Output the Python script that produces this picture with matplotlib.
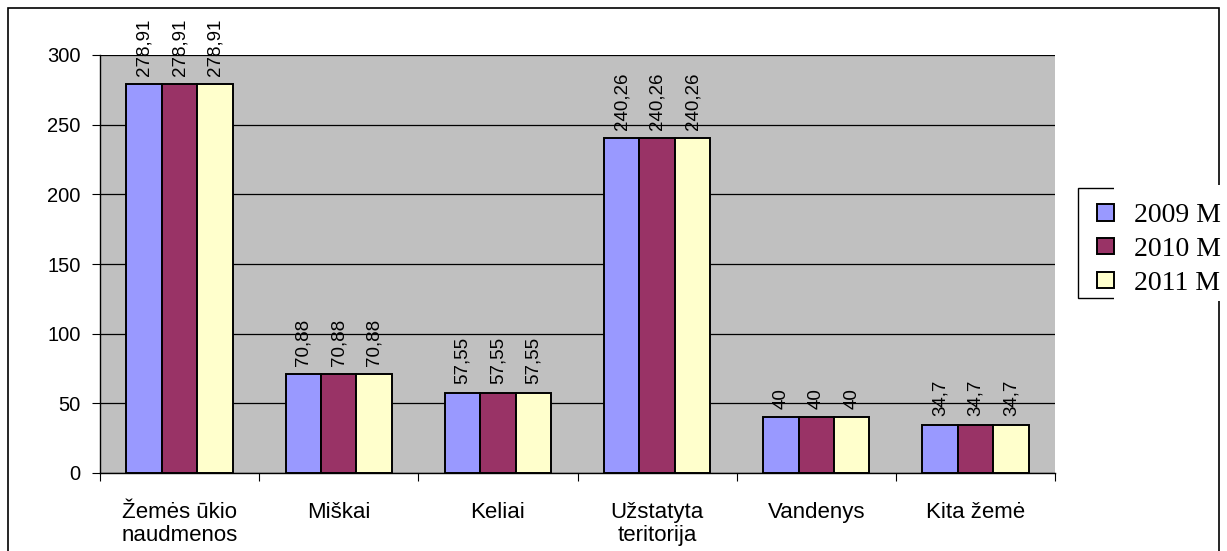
import numpy as np
import matplotlib
matplotlib.use("Agg")
from matplotlib import pyplot as plt
from matplotlib.patches import Rectangle

# data
categories = ["Žemės ūkio\nnaudmenos", "Miškai", "Keliai", "Užstatyta\nteritorija", "Vandenys", "Kita žemė"]
series_names = ["2009 M", "2010 M", "2011 M"]
v2009 = [278.91, 70.88, 57.55, 240.26, 40, 34.7]
v2010 = [278.91, 70.88, 57.55, 240.26, 40, 34.7]
v2011 = [278.91, 70.88, 57.55, 240.26, 40, 34.7]
colors = ["#9999FF", "#993366", "#FFFFCC"]

plt.rcParams['font.family'] = ['Liberation Sans', 'DejaVu Sans']

W, H = 1227, 551
fig = plt.figure(figsize=(W/100, H/100), dpi=100)
fig.patch.set_facecolor("white")
ax = fig.add_axes([100/W, 1-473/H, (1055-100)/W, (473-55)/H])
ax.set_facecolor("#C0C0C0")

# outer chart frame (runs off the bottom)
fig.patches.append(Rectangle((8/W, -0.1), (1219-8)/W, 1.1-8/H, transform=fig.transFigure,
                             fill=False, edgecolor="black", linewidth=1.2, clip_on=False, zorder=0))
# legend frame: left part only, the text box hides the rest
fig.patches.append(Rectangle((1078/W, 1-298/H), 0.2, (298-188)/H, transform=fig.transFigure,
                             facecolor="white", edgecolor="black", linewidth=1.0, clip_on=False, zorder=1))
fig.patches.append(Rectangle((1114/W, 1-301/H), 0.2, (301-185)/H, transform=fig.transFigure,
                             facecolor="white", edgecolor="none", clip_on=False, zorder=1.5))

x = np.arange(len(categories))
bw = 0.223
for i, (vals, c, name) in enumerate(zip([v2009, v2010, v2011], colors, series_names)):
	pos = x + (i-1)*bw
	ax.bar(pos, vals, width=bw, color=c, edgecolor="black", linewidth=1.4, label=name, zorder=3)
	for p, v in zip(pos, vals):
		ax.annotate(str(v).replace(".", ","), (p, v), xytext=(0, 6), textcoords="offset points",
		            rotation=90, ha="center", va="bottom", fontsize=13.5, annotation_clip=False)

ax.set_xlim(-0.5, len(categories)-0.5)
ax.set_ylim(0, 300)
ax.set_yticks(range(0, 301, 50))
ax.yaxis.grid(True, color="black", linewidth=0.9, zorder=0)
ax.set_axisbelow(True)
ax.set_xticks(np.arange(-0.5, len(categories), 1.0))
ax.set_xticklabels([])
ax.set_xticks(x, minor=True)
ax.set_xticklabels(categories, minor=True, fontsize=16, linespacing=1.1)
ax.tick_params(axis="x", which="minor", length=0, pad=21)
ax.tick_params(axis="x", which="major", length=6, direction="out")
ax.tick_params(axis="y", length=6, labelsize=14.5, pad=8)
for s in ["top", "right"]:
	ax.spines[s].set_visible(False)
ax.spines["left"].set_linewidth(1.0)
ax.spines["bottom"].set_linewidth(1.0)

leg = fig.legend(loc="upper left", bbox_to_anchor=(1097/W, 1-203/H), frameon=False,
                 prop={"family": "Liberation Serif", "size": 20}, handlelength=0.6, handleheight=0.55,
                 handletextpad=0.75, labelspacing=0.32, borderpad=0, borderaxespad=0)
leg.set_zorder(2)
for h in leg.legend_handles:
	h.set_linewidth(1.4)

fig.savefig("out.png", dpi=100)
